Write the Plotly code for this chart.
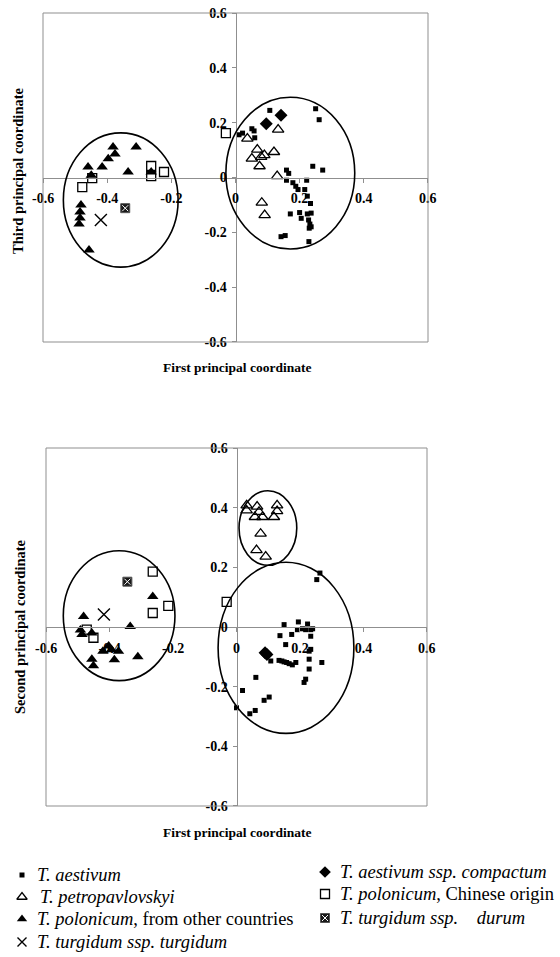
import plotly.graph_objects as go

W, H = 560, 957

# ---------------- data ----------------
tick_vals = [-0.6, -0.4, -0.2, 0, 0.2, 0.4, 0.6]
tick_text = ["-0.6", "-0.4", "-0.2", "0", "0.2", "0.4", "0.6"]

# Plot 1: first (x) vs third (y) principal coordinate
aest_13_x = [0.011, 0.022, 0.051, 0.058, 0.060, 0.107, 0.250, 0.261, 0.241, 0.272, 0.159, 0.166,
             0.159, 0.179, 0.188, 0.195, 0.222, 0.216, 0.224, 0.234, 0.171, 0.200, 0.205, 0.224,
             0.228, 0.232, 0.236, 0.230, 0.236, 0.142, 0.155, 0.229]
aest_13_y = [0.156, 0.162, 0.178, 0.170, 0.145, 0.245, 0.251, 0.211, 0.041, 0.027, 0.027, 0.015,
             -0.010, -0.019, -0.032, -0.044, -0.010, -0.044, -0.068, -0.095, -0.133, -0.128, -0.149, -0.133,
             -0.155, -0.170, -0.180, -0.185, -0.130, -0.216, -0.212, -0.234]
comp_13_x = [0.096, 0.142]
comp_13_y = [0.196, 0.227]
petro_13_x = [0.037, 0.068, 0.051, 0.080, 0.090, 0.075, 0.120, 0.133, 0.130, 0.082, 0.091]
petro_13_y = [0.142, 0.102, 0.069, 0.075, 0.082, 0.041, 0.093, 0.175, 0.005, -0.092, -0.137]
polo_13_x = [-0.382, -0.376, -0.397, -0.416, -0.460, -0.310, -0.335, -0.450, -0.263,
             -0.482, -0.485, -0.485, -0.488, -0.457]
polo_13_y = [0.111, 0.086, 0.068, 0.038, 0.038, 0.111, 0.020, 0.008, 0.020,
             -0.100, -0.126, -0.148, -0.170, -0.265]
chin_13_x = [-0.030, -0.447, -0.478, -0.263, -0.263, -0.223]
chin_13_y = [0.162, -0.002, -0.035, 0.042, 0.005, 0.020]
durum_13_x = [-0.344]
durum_13_y = [-0.112]
turg_13_x = [-0.420]
turg_13_y = [-0.155]

# Plot 2: first (x) vs second (y) principal coordinate
aest_12_x = [0.263, 0.253, 0.150, 0.195, 0.224, 0.137, 0.174, 0.192, 0.208, 0.218, 0.234, 0.240,
             0.234, 0.155, 0.234, 0.229, 0.108, 0.134, 0.143, 0.150, 0.158, 0.166, 0.176, 0.187,
             0.229, 0.269, 0.229, 0.218, 0.213, 0.061, 0.019, 0.087, 0.103, 0.000, 0.042, 0.059]
aest_12_y = [0.181, 0.159, 0.008, 0.017, 0.010, -0.029, -0.025, -0.009, -0.006, -0.009, -0.009, -0.006,
             -0.031, -0.059, -0.075, -0.081, -0.114, -0.112, -0.114, -0.117, -0.119, -0.123, -0.127, -0.119,
             -0.108, -0.119, -0.141, -0.175, -0.186, -0.169, -0.213, -0.246, -0.235, -0.271, -0.291, -0.280]
comp_12_x = [0.090, 0.096]
comp_12_y = [-0.086, -0.092]
petro_12_x = [0.032, 0.032, 0.065, 0.071, 0.058, 0.082, 0.118, 0.128, 0.128, 0.076, 0.063, 0.092]
petro_12_y = [0.408, 0.391, 0.404, 0.386, 0.369, 0.369, 0.369, 0.408, 0.389, 0.313, 0.258, 0.236]
polo_12_x = [-0.482, -0.264, -0.335, -0.487, -0.456, -0.492, -0.403, -0.421, -0.372, -0.385,
             -0.311, -0.456, -0.451, -0.394]
polo_12_y = [0.035, 0.102, 0.002, -0.025, -0.020, -0.010, -0.064, -0.081, -0.081, -0.110,
             -0.100, -0.108, -0.130, -0.076]
chin_12_x = [-0.031, -0.264, -0.215, -0.264, -0.472, -0.451]
chin_12_y = [0.084, 0.186, 0.071, 0.047, -0.009, -0.036]
durum_12_x = [-0.344]
durum_12_y = [0.152]
turg_12_x = [-0.418]
turg_12_y = [0.042]

# group ellipses: centre x, centre y, half-width, half-height
ell_13 = [(-0.358, -0.082, 0.179, 0.245), (0.171, 0.016, 0.201, 0.277)]
ell_12 = [(-0.370, 0.038, 0.176, 0.218), (0.099, 0.332, 0.091, 0.125), (0.156, -0.070, 0.214, 0.287)]

# ---------------- styles ----------------
FONT = "Liberation Serif, Times New Roman, Times, serif"
GRAY = "#8f8f8f"
styles = {
    "aest": dict(symbol="square", size=5, color="black", line=dict(width=0)),
    "comp": dict(symbol="diamond", size=10, color="black", line=dict(width=0)),
    "petro": dict(symbol="triangle-up-open", size=10, color="black", line=dict(width=1.3, color="black")),
    "polo": dict(symbol="triangle-up", size=10, color="black", line=dict(width=0)),
    "chin": dict(symbol="square-open", size=9, color="black", line=dict(width=1.3, color="black")),
    "durum": dict(symbol="square", size=9, color="#1a1a1a", line=dict(width=1, color="#555")),
    "durum_x": dict(symbol="x-thin-open", size=6, color="white", line=dict(width=1, color="white")),
    "turg": dict(symbol="x-thin-open", size=12, color="black", line=dict(width=1.4, color="black")),
}

def px2x(px):
    return px / W

def px2y(py):
    return 1 - py / H

dom13_x = [px2x(43), px2x(428)]
dom13_y = [px2y(342), px2y(13)]
dom12_x = [px2x(46), px2x(427)]
dom12_y = [px2y(806), px2y(448)]

fig = go.Figure()

def add(xs, ys, key, xa, ya):
    fig.add_trace(go.Scatter(x=xs, y=ys, mode="markers", marker=styles[key],
                             xaxis=xa, yaxis=ya, showlegend=False, hoverinfo="skip"))

for xa, ya, d in [
    ("x", "y", [(aest_13_x, aest_13_y, "aest"), (comp_13_x, comp_13_y, "comp"),
                (petro_13_x, petro_13_y, "petro"), (polo_13_x, polo_13_y, "polo"),
                (chin_13_x, chin_13_y, "chin"), (durum_13_x, durum_13_y, "durum"),
                (durum_13_x, durum_13_y, "durum_x"), (turg_13_x, turg_13_y, "turg")]),
    ("x2", "y2", [(aest_12_x, aest_12_y, "aest"), (comp_12_x, comp_12_y, "comp"),
                  (petro_12_x, petro_12_y, "petro"), (polo_12_x, polo_12_y, "polo"),
                  (chin_12_x, chin_12_y, "chin"), (durum_12_x, durum_12_y, "durum"),
                  (durum_12_x, durum_12_y, "durum_x"), (turg_12_x, turg_12_y, "turg")]),
]:
    for xs, ys, key in d:
        add(xs, ys, key, xa, ya)

# ellipses
for xr, yr, ells in [("x", "y", ell_13), ("x2", "y2", ell_12)]:
    for cx, cy, rx, ry in ells:
        fig.add_shape(type="circle", xref=xr, yref=yr, x0=cx - rx, x1=cx + rx,
                      y0=cy - ry, y1=cy + ry, line=dict(color="black", width=1.6))
    # frame
    fig.add_shape(type="rect", xref=xr + " domain", yref=yr + " domain", x0=0, x1=1, y0=0, y1=1,
                  line=dict(color=GRAY, width=1))

tickfont = dict(family=FONT, size=14, color="black", weight="bold")
rng = [-0.6005, 0.6005]

def xaxis(dom, ydom):
    return dict(domain=dom, range=rng, anchor="free", position=(ydom[0] + ydom[1]) / 2,
                showline=True, linecolor=GRAY, linewidth=1, ticks="outside", ticklen=4,
                tickcolor=GRAY, tickvals=tick_vals, ticktext=tick_text, tickfont=tickfont,
                ticklabelstandoff=4, showgrid=False, zeroline=False, fixedrange=True,
                automargin=False)

def yaxis(dom, xdom):
    return dict(domain=dom, range=rng, anchor="free", position=(xdom[0] + xdom[1]) / 2,
                showline=True, linecolor=GRAY, linewidth=1, ticks="outside", ticklen=4,
                tickcolor=GRAY, tickvals=tick_vals, ticktext=tick_text, tickfont=tickfont,
                ticklabelstandoff=2, showgrid=False, zeroline=False, fixedrange=True,
                automargin=False)

# ---------------- legend (drawn on an invisible pixel-space axis) ----------------
legend_items = [
    ("aest", 22, 875, 35, "<i>T. aestivum</i>"),
    ("petro", 22, 897, 38, "<i>T. petropavlovskyi</i>"),
    ("polo", 22, 919, 35, "<i>T. polonicum</i>, from other countries"),
    ("turg", 22, 942, 35, "<i>T. turgidum ssp. turgidum</i>"),
    ("comp", 325, 872, 338, "<i>T. aestivum ssp. compactum</i>"),
    ("chin", 325, 894, 338, "<i>T. polonicum</i>, Chinese origin"),
    ("durum", 325, 918, 338, "<i>T. turgidum ssp.    durum</i>"),
]
for key, mx, my, tx, txt in legend_items:
    st = dict(styles[key])
    if key != "aest":
        st["size"] = min(st["size"], 9)
    fig.add_trace(go.Scatter(x=[mx], y=[my], mode="markers", marker=st, xaxis="x3", yaxis="y3",
                             showlegend=False, hoverinfo="skip", cliponaxis=False))
    if key == "durum":
        fig.add_trace(go.Scatter(x=[mx], y=[my], mode="markers", marker=styles["durum_x"],
                                 xaxis="x3", yaxis="y3", showlegend=False, hoverinfo="skip"))
    fig.add_annotation(xref="paper", yref="paper", x=px2x(tx), y=px2y(my), text=txt,
                       showarrow=False, xanchor="left", yanchor="middle",
                       font=dict(family=FONT, size=18.5, color="black"))

# axis titles
xtitle_font = dict(family=FONT, size=13.5, color="black", weight="bold")
ytitle_font = dict(family=FONT, size=14.5, color="black", weight="bold")
fig.add_annotation(xref="paper", yref="paper", x=px2x(237), y=px2y(368), text="First principal coordinate",
                   showarrow=False, xanchor="center", yanchor="middle", font=xtitle_font)
fig.add_annotation(xref="paper", yref="paper", x=px2x(237), y=px2y(832), text="First principal coordinate",
                   showarrow=False, xanchor="center", yanchor="middle", font=xtitle_font)
fig.add_annotation(xref="paper", yref="paper", x=px2x(18), y=px2y(171), text="Third principal coordinate",
                   showarrow=False, xanchor="center", yanchor="middle", textangle=-90, font=ytitle_font)
fig.add_annotation(xref="paper", yref="paper", x=px2x(20), y=px2y(627), text="Second principal coordinate",
                   showarrow=False, xanchor="center", yanchor="middle", textangle=-90, font=ytitle_font)

fig.update_layout(
    width=W, height=H, margin=dict(l=0, r=0, t=0, b=0, pad=0, autoexpand=False),
    paper_bgcolor="white", plot_bgcolor="rgba(0,0,0,0)", showlegend=False,
    font=dict(family=FONT),
    xaxis=xaxis(dom13_x, dom13_y), yaxis=yaxis(dom13_y, dom13_x),
    xaxis2=xaxis(dom12_x, dom12_y), yaxis2=yaxis(dom12_y, dom12_x),
    xaxis3=dict(domain=[0, 1], range=[0, W], visible=False, fixedrange=True, anchor="y3",
                automargin=False),
    yaxis3=dict(domain=[0, 1], range=[H, 0], visible=False, fixedrange=True, anchor="x3",
                automargin=False),
)

fig.write_html("out.html", config={"displayModeBar": False},
               post_script="document.body.style.margin='0';document.body.style.padding='0';"
                           "document.body.style.overflow='hidden';")
